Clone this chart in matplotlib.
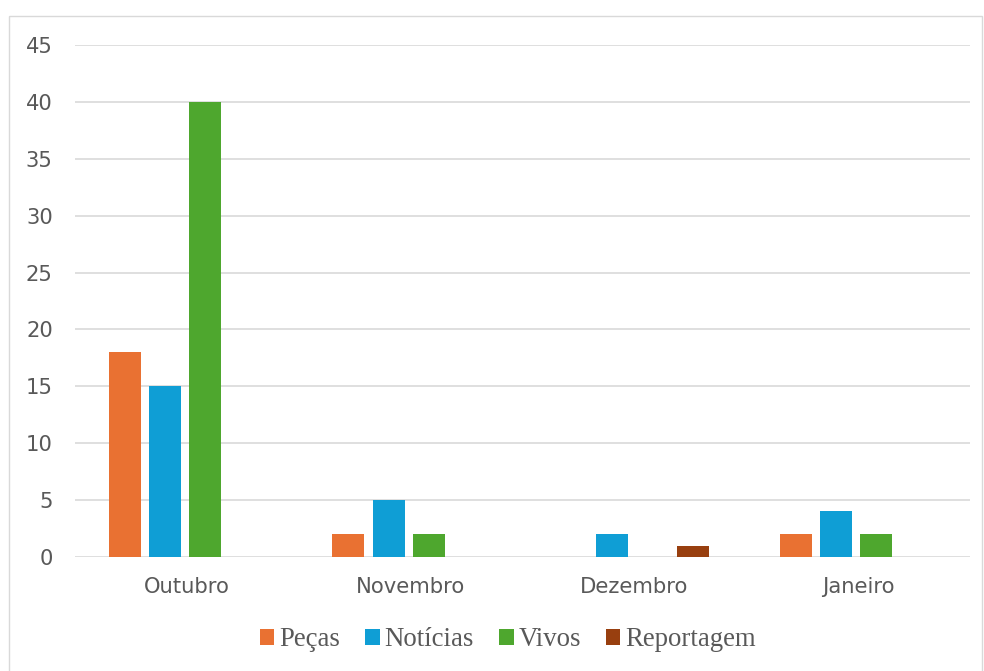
import numpy as np
import matplotlib.pyplot as plt
from matplotlib.patches import Rectangle

# data
months = ['Outubro', 'Novembro', 'Dezembro', 'Janeiro']
series_names = ['Peças', 'Notícias', 'Vivos', 'Reportagem']
pecas = [18, 2, 0, 2]
noticias = [15, 5, 2, 4]
vivos = [40, 2, 0, 2]
reportagem = [0, 0, 1, 0]
y_ticks = [0, 5, 10, 15, 20, 25, 30, 35, 40, 45]

colors = ['#E97132', '#0F9ED5', '#4EA72E', '#983F0F']
GRID = '#D9D9D9'
TEXT = '#595959'

W, H, DPI = 984, 671, 100
fig = plt.figure(figsize=(W / DPI, H / DPI), dpi=DPI)

# chart area border
fig.patches.append(Rectangle((9 / W, 1 - 16 / H), (982 - 9) / W, -(700 - 16) / H,
                             transform=fig.transFigure, fill=False,
                             edgecolor=GRID, linewidth=1.0))

ax = fig.add_axes([75 / W, (H - 557) / H, (970 - 75) / W, (557 - 45) / H])

x = np.arange(len(months))
slot = 0.18
bar_w = 0.143
all_series = [pecas, noticias, vivos, reportagem]
for k, (vals, name, col) in enumerate(zip(all_series, series_names, colors)):
    ax.bar(x + (k - 1.5) * slot - 0.008, vals, bar_w, color=col, label=name,
           linewidth=0, zorder=3)

ax.set_xlim(-0.5, len(months) - 0.5)
ax.set_ylim(0, 45)
ax.set_yticks(y_ticks)
ax.set_xticks(x)
ax.set_xticklabels(months)
ax.yaxis.grid(True, color=GRID, linewidth=1.2, zorder=0)
ax.set_axisbelow(True)
for s in ax.spines.values():
    s.set_visible(False)
ax.tick_params(axis='y', length=0, pad=16, labelsize=15.2, labelcolor=TEXT)
ax.tick_params(axis='x', length=0, pad=14.5, labelsize=15.2, labelcolor=TEXT)

leg = fig.legend(loc='center', bbox_to_anchor=(508 / W, 1 - 640 / H), ncol=4,
                 frameon=False, prop={'family': 'Liberation Serif', 'size': 19.3},
                 handlelength=0.53, handleheight=0.53, handletextpad=0.18,
                 columnspacing=0.95, borderaxespad=0)
for t in leg.get_texts():
    t.set_color(TEXT)

fig.savefig('out.png', dpi=DPI)
